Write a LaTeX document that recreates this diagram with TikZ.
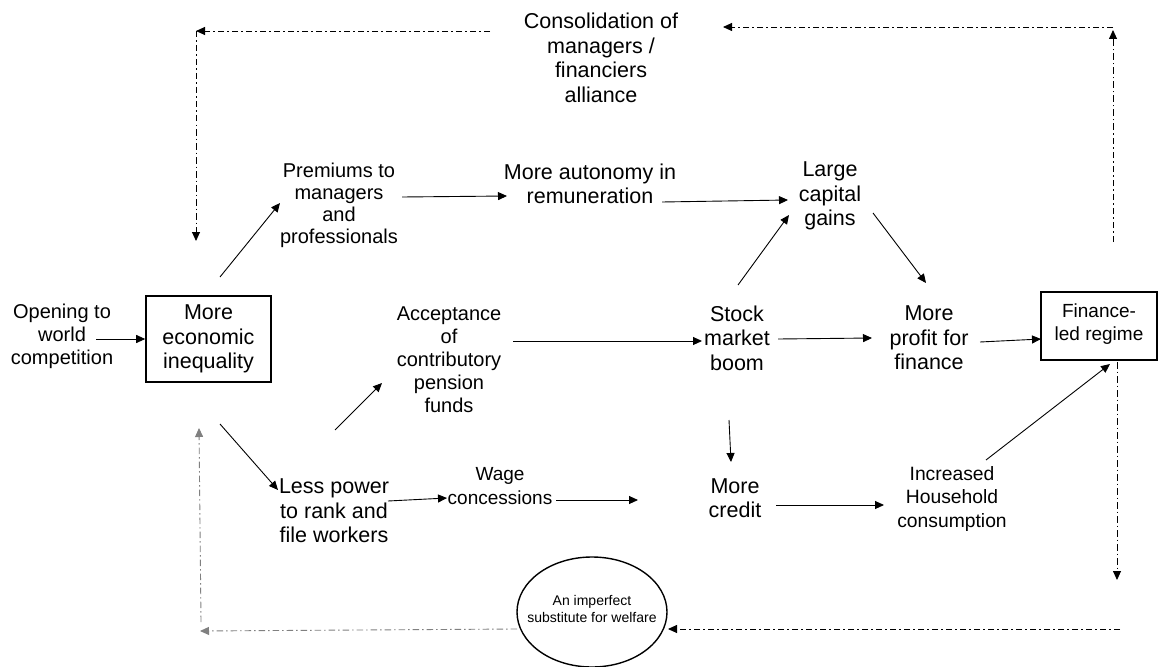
\documentclass[tikz,border=0pt]{standalone}
\usepackage{fontspec}
\setmainfont{Liberation Sans}
\usetikzlibrary{arrows.meta,shapes.geometric}
\definecolor{linegray}{RGB}{128,128,128}
\begin{document}
\begin{tikzpicture}[x=1pt,y=-1pt,
  lbl/.style={align=center,inner sep=0pt,font=\fontsize{21.5}{24.5}\selectfont},
  lblsm/.style={align=center,inner sep=0pt,font=\fontsize{20}{23}\selectfont},
  lblxs/.style={align=center,inner sep=0pt,font=\fontsize{19.3}{23.5}\selectfont},
  arr/.style={line width=0.9pt,-{Triangle[length=9pt,width=8pt]}},
  dd/.style={line width=0.9pt,dash pattern=on 6.5pt off 3pt on 1.5pt off 3pt,-{Triangle[length=9pt,width=8pt]}},
]
\fill[white] (0,0) rectangle (1158,666);
\useasboundingbox (0,0) rectangle (1158,666);

% ---- nodes ----
\node[lbl] (cons) at (601,58) {Consolidation of\\managers /\\financiers\\alliance};
\node[lblsm] (open) at (62,336) {Opening to\\world\\competition};
\node[lbl,draw,line width=1.6pt,minimum width=125pt,minimum height=86pt,inner sep=0pt] (ineq) at (208.5,339) {More\\economic\\inequality};
\node[lblsm,font=\fontsize{20}{22}\selectfont] (prem) at (339,205) {Premiums to\\managers\\and\\professionals};
\node[lbl] (auto) at (590,184) {More autonomy in\\remuneration};
\node[lbl] (large) at (830,196) {Large\\capital\\gains};
\node[lblsm] (acc) at (449,360) {Acceptance\\of\\contributory\\pension\\funds};
\node[lbl] (stock) at (737,338) {Stock\\market\\boom};
\node[lbl] (profit) at (929,338) {More\\profit for\\finance};
\node[draw,line width=1.6pt,minimum width=116pt,minimum height=68pt,inner sep=0pt] (fin) at (1099,326) {};
\node[align=center,inner sep=0pt,font=\fontsize{19}{23}\selectfont] (fintxt) at (1099,324) {Finance-\\led regime};
\node[lbl] (less) at (334,511) {Less power\\to rank and\\file workers};
\node[lblxs,font=\fontsize{19}{23.5}\selectfont] (wage) at (500,486) {Wage\\concessions};
\node[lbl] (credit) at (735,498) {More\\credit};
\node[lblxs] (house) at (952,499) {Increased\\Household\\consumption};
\node[draw,ellipse,line width=1.4pt,minimum width=150pt,minimum height=110pt,inner sep=0pt] (ell) at (592,612) {};
\node[align=center,inner sep=0pt,font=\fontsize{14}{17}\selectfont] (elltxt) at (592,609) {An imperfect\\substitute for welfare};

% ---- free ends of the feedback loops ----
\coordinate (tl) at (196,31);
\coordinate (tr) at (1113,27);
\coordinate (br) at (1117,580);
\coordinate (bre) at (1120,629);
\coordinate (bl) at (200,631);
\coordinate (blv) at (201,622);

% ---- solid causal links ----
\draw[arr] ([shift={(34,3)}]open.center) -- (ineq.west);
\draw[arr] ([shift={(11.5,-62)}]ineq.center) -- ([shift={(-59,-2)}]prem.center);
\draw[arr] ([shift={(63,-8)}]prem.center) -- ([shift={(-83,12)}]auto.center);
\draw[arr] ([shift={(72,18)}]auto.center) -- ([shift={(-42,4)}]large.center);
\draw[arr] ([shift={(1,-53)}]stock.center) -- ([shift={(-41,19)}]large.center);
\draw[arr] ([shift={(43,17)}]large.center) -- ([shift={(-3,-55)}]profit.center);
\draw[arr] ([shift={(64,-19)}]acc.center) -- ([shift={(-35,3)}]stock.center);
\draw[arr] ([shift={(41,1)}]stock.center) -- ([shift={(-57,0)}]profit.center);
\draw[arr] ([shift={(51,4)}]profit.center) -- ([shift={(-58,13)}]fin.center);
\draw[arr] ([shift={(11.5,85)}]ineq.center) -- ([shift={(-56,-21)}]less.center);
\draw[arr] ([shift={(1,-81)}]less.center) -- ([shift={(-67,23)}]acc.center);
\draw[arr] ([shift={(-8,82)}]stock.center) -- ([shift={(-4,-36)}]credit.center);
\draw[arr] ([shift={(54,-10)}]less.center) -- ([shift={(-53,12)}]wage.center);
\draw[arr] ([shift={(56,14)}]wage.center) -- ([shift={(-97,2)}]credit.center);
\draw[arr] ([shift={(41,7)}]credit.center) -- ([shift={(-68,6)}]house.center);
\draw[arr] ([shift={(34,-39)}]house.center) -- ([shift={(11,38)}]fin.center);

% ---- dash-dot feedback loops ----
\draw[dd] ([shift={(-111,-27)}]cons.center) -- (tl);
\draw[dd] (tl) -- ([shift={(-12.5,-98)}]ineq.center);
\draw[dd] ([shift={(14,-84)}]fin.center) -- ([shift={(0,3)}]tr);
\draw[dd] (tr) -- ([shift={(122,-31)}]cons.center);
\draw[dd] ([shift={(18,36)}]fin.center) -- (br);
\draw[dd] (bre) -- ([shift={(76,17)}]ell.center);
\draw[dd,linegray] ([shift={(-75,17)}]ell.center) -- (bl);
\draw[dd,linegray] (blv) -- ([shift={(-9.5,89)}]ineq.center);
\end{tikzpicture}
\end{document}
